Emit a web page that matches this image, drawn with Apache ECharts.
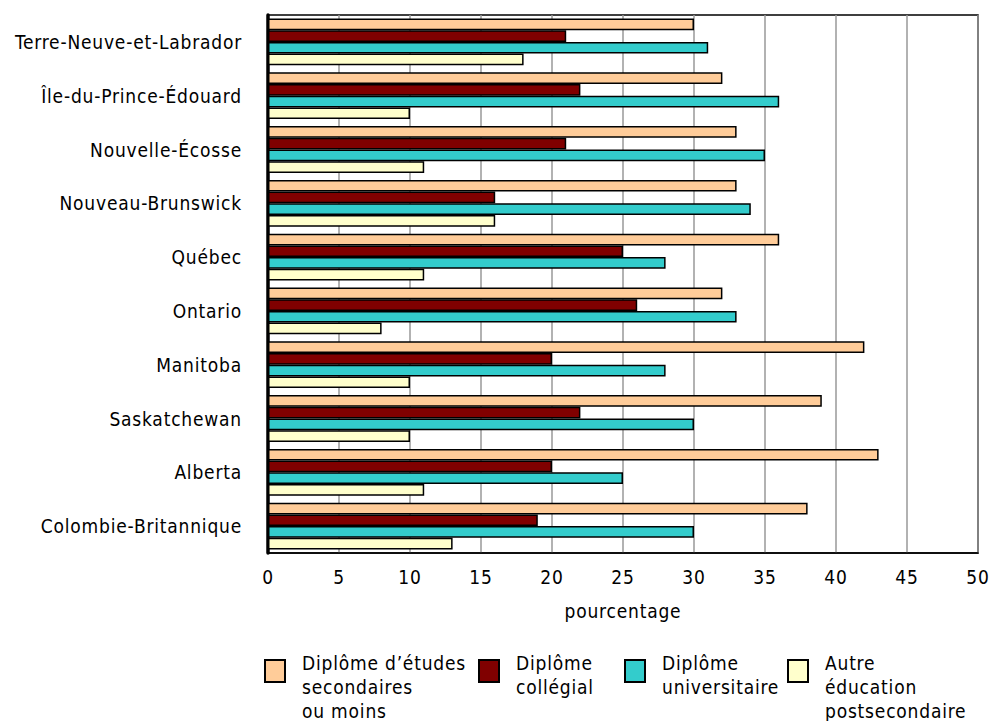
<!DOCTYPE html>
<html>
<head>
<meta charset="utf-8">
<script src="https://cdn.jsdelivr.net/npm/echarts@6/dist/echarts.min.js"></script>
<style>
  html, body { margin: 0; padding: 0; background: #fff; }
  #chart { width: 998px; height: 721px; }
  #chart svg text { letter-spacing: 0.8px; }
</style>
</head>
<body>
<div id="chart"></div>
<script>
const categories = ['Terre-Neuve-et-Labrador', 'Île-du-Prince-Édouard', 'Nouvelle-Écosse', 'Nouveau-Brunswick', 'Québec', 'Ontario', 'Manitoba', 'Saskatchewan', 'Alberta', 'Colombie-Britannique'];
const secondaire = [30, 32, 33, 33, 36, 32, 42, 39, 43, 38];
const collegial = [21, 22, 21, 16, 25, 26, 20, 22, 20, 19];
const universitaire = [31, 36, 35, 34, 28, 33, 28, 30, 25, 30];
const autre = [18, 10, 11, 16, 11, 8, 10, 10, 11, 13];
const seriesNames = ['Diplôme d’études secondaires ou moins', 'Diplôme collégial', 'Diplôme universitaire', 'Autre éducation postsecondaire'];
const legendLines = [
  ['Diplôme d’études', 'secondaires', 'ou moins'],
  ['Diplôme', 'collégial'],
  ['Diplôme', 'universitaire'],
  ['Autre', 'éducation', 'postsecondaire']
];
const xTicks = [0, 5, 10, 15, 20, 25, 30, 35, 40, 45, 50];

const colors = ['#FFCC99', '#800000', '#33CCCC', '#FFFFCC'];
const FONT = "'DejaVu Sans Condensed', 'Liberation Sans Narrow', sans-serif";
const FS = 19;
const LH = 24;

const chart = echarts.init(document.getElementById('chart'), null, { renderer: 'svg' });

const allValues = [secondaire, collegial, universitaire, autre];

// legend geometry
const iconW = 20, iconH = 22, iconTop = 660;
const legendLeft = [264, 478, 624, 787];
const legends = seriesNames.map((name, i) => {
  const lines = legendLines[i];
  const n = lines.length;
  const S = n === 3 ? 32 : 8;
  const H = S + n * LH;
  const rectTop = Math.min(0, iconH / 2 - H / 2);
  const text = '{s|}\n' + lines.map(l => '{a|' + l + '}').join('\n');
  return {
    data: [{ name: name, icon: 'rect' }],
    left: legendLeft[i],
    top: iconTop + rectTop,
    padding: 0,
    itemWidth: iconW,
    itemHeight: iconH,
    selectedMode: false,
    formatter: () => text,
    textStyle: {
      fontFamily: FONT, fontSize: FS, color: '#000',
      rich: {
        s: { lineHeight: S, height: S, fontSize: 1, padding: [0, 0, 0, 12] },
        a: { fontFamily: FONT, fontSize: FS, color: '#000', lineHeight: LH, padding: [0, 0, 0, 12] }
      }
    }
  };
});

const option = {
  backgroundColor: '#fff',
  animation: false,
  legend: legends,
  grid: {
    left: 268, top: 15, width: 710, height: 538,
    show: true, borderColor: '#000', borderWidth: 1.5, backgroundColor: 'transparent'
  },
  xAxis: {
    type: 'value', min: 0, max: 50, interval: 5,
    name: 'pourcentage', nameLocation: 'middle', nameGap: 48,
    nameTextStyle: { fontFamily: FONT, fontSize: FS, color: '#000' },
    axisLine: { show: true, lineStyle: { color: '#000', width: 1.5 } },
    axisTick: { show: false },
    axisLabel: { fontFamily: FONT, fontSize: FS, color: '#000', margin: 14,
      formatter: v => xTicks.indexOf(v) >= 0 ? String(v) : '' },
    splitLine: { show: true, lineStyle: { color: '#999', width: 1.5 } }
  },
  yAxis: {
    type: 'category', data: categories, inverse: true,
    axisLine: { show: true, lineStyle: { color: '#000', width: 3.5 } },
    axisTick: { show: false },
    axisLabel: { fontFamily: FONT, fontSize: FS, color: '#000', margin: 26 },
    splitLine: { show: false }
  },
  series: seriesNames.map((name, i) => ({
    name: name,
    type: 'bar',
    data: allValues[i],
    barGap: '0%',
    barCategoryGap: '13%',
    itemStyle: { color: colors[i], borderColor: '#000', borderWidth: 1.5 }
  }))
};

chart.setOption(option);
</script>
</body>
</html>
